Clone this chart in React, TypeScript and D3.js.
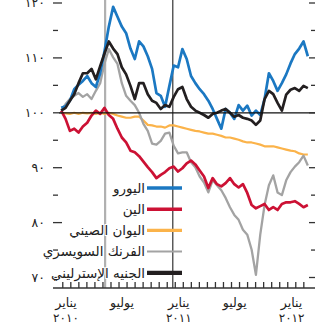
import React from "react";
import * as d3 from "d3";

// Currency indices against the dollar, Jan 2010 = 100, sampled every two weeks
const startDate = new Date(2010, 0, 5);
const euro = [100.9, 101.2, 102.2, 104.3, 105.1, 105.8, 106.7, 105.4, 104.7, 107.2, 111.2, 115.7, 119.3, 117.5, 115.7, 114.5, 111.7, 109.8, 113, 112.1, 110.3, 108, 103.6, 103.1, 101.1, 104.9, 108.6, 108.3, 111.6, 109.8, 106.7, 105.4, 104.3, 103.4, 102.2, 100.7, 98.9, 97.1, 100.7, 100, 98.9, 101.4, 100.4, 101.3, 99.5, 100.4, 99.6, 102.5, 107.2, 105.8, 104, 105.4, 107, 109, 110.7, 111.7, 113, 110.3];
const yen = [100.4, 98.9, 96.7, 97.1, 96.4, 97.5, 98.2, 99.5, 100.4, 99.8, 100.9, 99.6, 98.9, 97.1, 95.5, 94.6, 93.1, 92.8, 92.1, 91.1, 90.1, 89.2, 88.1, 88.7, 89.2, 89.9, 90.2, 89.3, 89.9, 90.8, 91.3, 90.6, 89.5, 88.4, 86.3, 88.1, 87, 86.6, 87.2, 88.1, 87, 86.4, 87, 85.4, 83.2, 82.6, 83, 83.4, 82.3, 82.8, 82.3, 83.4, 83.7, 83.7, 83.9, 83.4, 82.8, 83.2];
const yuan = [100, 99.9, 99.8, 100, 99.8, 100, 99.9, 100, 99.8, 100, 99.8, 100, 99.8, 99.5, 99.3, 99.1, 99.1, 99.3, 99.3, 98.6, 97.8, 97.7, 97.5, 97.5, 97.3, 97.7, 97.7, 97.5, 97.3, 97.1, 96.9, 96.7, 96.6, 96.4, 96.2, 96.2, 96, 95.8, 95.5, 95.5, 95.3, 95.1, 94.8, 94.6, 94.6, 94.4, 94.2, 93.9, 93.9, 93.9, 93.7, 93.5, 93.3, 93.1, 93, 92.6, 92.4, 92.4];
const franc = [100.4, 101.6, 102.5, 103.1, 103.6, 102.9, 103.4, 102.5, 104, 105.4, 109, 111.6, 110.1, 108.9, 105.4, 103.1, 102.2, 101.4, 100, 98, 96.7, 94.4, 94.2, 94.9, 96.2, 96.4, 94, 92.6, 92.8, 92.8, 91, 90.1, 88.4, 87.3, 85.5, 87.7, 86.8, 85.9, 84.5, 82.8, 81.4, 80.5, 78.7, 77.8, 75.1, 70.5, 77.8, 83.2, 86.8, 88.6, 85.5, 85, 87.7, 89.2, 90.2, 91, 92.2, 90.4];
const sterling = [100.4, 100.9, 102.2, 103.4, 105.4, 107.2, 107.2, 108, 106.1, 108.5, 110.8, 113, 111.7, 110.7, 108.3, 107, 104.9, 102.5, 105.4, 105.4, 103.4, 102.2, 101.8, 100.7, 101.4, 101.1, 102.9, 104.3, 104.7, 102.5, 101.1, 100.4, 100, 99.6, 99.1, 99.8, 100, 100.4, 100.7, 100, 99.3, 99.6, 99.1, 98.9, 98.6, 97.8, 98.6, 102.5, 104, 103.4, 101.8, 100.4, 103.3, 104.2, 104.5, 104, 104.9, 104.5];

const seriesNames = ["اليورو", "الين", "اليوان الصيني", "الفرنك السويسري", "الجنيه الإسترليني"];
const seriesColors = ["#1b78c2", "#cc1134", "#fbb34a", "#a3a3a3", "#231f20"];
const monthLabels = ["يناير", "يوليو", "يناير", "يوليو", "يناير"];
const yearLabels = ["٢٠١٠", "", "٢٠١١", "", "٢٠١٢"];
const labelDates = [new Date(2010, 0, 1), new Date(2010, 6, 1), new Date(2011, 0, 1), new Date(2011, 6, 1), new Date(2012, 0, 1)];
const yTicks = [70, 75, 80, 85, 90, 95, 100, 105, 110, 115, 120];

const W = 315;
const H = 327;
const font = "'DejaVu Sans', sans-serif";

const arabicDigits = (n: number) =>
  String(n).replace(/[0-9]/g, (d) => "٠١٢٣٤٥٦٧٨٩"[+d]);

export default function App() {
  const dates = euro.map((_, i) => d3.timeDay.offset(startDate, 14 * i));
  const x = d3.scaleTime().domain([new Date(2010, 0, 1), new Date(2012, 2, 20)]).range([60, 310]);
  const y = d3.scaleLinear().domain([70, 120]).range([277.5, 3]);
  const line = d3
    .line<number>()
    .x((_, i) => x(dates[i]))
    .y((d) => y(d));

  const allSeries = [euro, yen, yuan, franc, sterling];
  const drawOrder = [2, 3, 1, 0, 4];
  const widths = [2.7, 2.7, 2.2, 2.3, 2.7];
  const xTicks = d3.timeDay.range(new Date(2010, 0, 10), new Date(2012, 2, 20), 26);
  const axisY = 288;

  return (
    <svg width={W} height={H} style={{ position: "absolute", left: 0, top: 0 }} fontFamily={font}>
      <rect width={W} height={H} fill="#fff" />
      {/* event markers */}
      <line x1={x(new Date(2010, 4, 27))} x2={x(new Date(2010, 4, 27))} y1={0} y2={axisY} stroke="#b0b0b0" strokeWidth={2.2} />
      <line x1={x(new Date(2011, 0, 1))} x2={x(new Date(2011, 0, 1))} y1={0} y2={axisY} stroke="#333" strokeWidth={1.2} />

      {drawOrder.map((k) => (
        <path key={k} d={line(allSeries[k]) || ""} fill="none" stroke={seriesColors[k]} strokeWidth={widths[k]} strokeLinejoin="round" />
      ))}

      <line x1={59} x2={W} y1={y(100)} y2={y(100)} stroke="#111" strokeWidth={1.3} />

      {/* y ticks both sides */}
      {yTicks.map((t) => {
        const major = t % 10 === 0;
        return (
          <g key={t}>
            <line x1={53} x2={major ? 62 : 58} y1={y(t)} y2={y(t)} stroke="#333" strokeWidth={1.3} />
            <line x1={major ? 309 : 311} x2={W} y1={y(t)} y2={y(t)} stroke="#333" strokeWidth={1.3} />
            {major && (
              <text x={45} y={y(t)} dy="0.35em" textAnchor="end" fontSize={12.5} letterSpacing={1.5} fill="#222">
                {arabicDigits(t)}
              </text>
            )}
          </g>
        );
      })}

      {/* x axis */}
      <line x1={53} x2={W} y1={axisY} y2={axisY} stroke="#333" strokeWidth={1.4} />
      {xTicks.map((d, i) => (
        <line key={i} x1={x(d)} x2={x(d)} y1={axisY} y2={axisY - 6} stroke="#333" strokeWidth={1.3} />
      ))}
      {labelDates.map((d, i) => (
        <g key={i}>
          <text x={x(d) + 6} y={307} textAnchor="middle" fontSize={12.5} fill="#222">
            {monthLabels[i]}
          </text>
          {yearLabels[i] && (
            <text x={x(d) + 6} y={322} textAnchor="middle" fontSize={12} letterSpacing={1.5} fill="#222">
              {yearLabels[i]}
            </text>
          )}
        </g>
      ))}

      {/* legend */}
      {seriesNames.map((name, i) => {
        const ly = 188 + i * 21.2;
        return (
          <g key={name}>
            <line x1={147} x2={182} y1={ly} y2={ly} stroke={seriesColors[i]} strokeWidth={i === 3 ? 2 : i === 4 ? 4.2 : 3.4} />
            <text x={145} y={ly} dy="0.35em" textAnchor="end" fontSize={13.5} fill="#222" stroke="#fff" strokeWidth={2} paintOrder="stroke">
              {name}
            </text>
          </g>
        );
      })}
    </svg>
  );
}
